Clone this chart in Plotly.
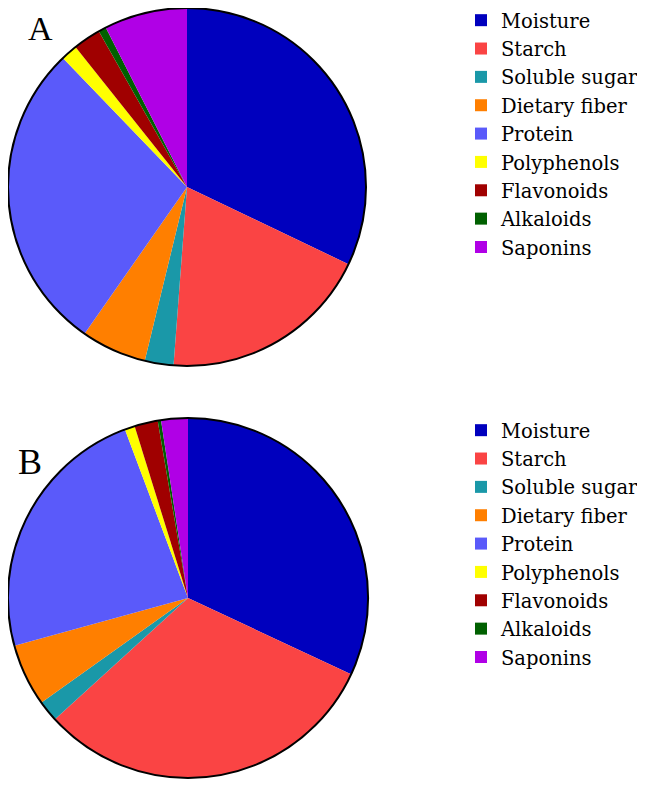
import plotly.graph_objects as go

# composition (%)
components = ["Moisture", "Starch", "Soluble sugar", "Dietary fiber", "Protein",
              "Polyphenols", "Flavonoids", "Alkaloids", "Saponins"]
values_a = [32.1, 19.1, 2.6, 5.9, 28.1, 1.5, 2.5, 0.7, 7.5]
values_b = [32.0, 31.3, 1.9, 5.6, 23.6, 0.9, 2.1, 0.3, 2.4]
colors = ["#0000BE", "#FA4444", "#1A98A8", "#FF7F00", "#5A5AFA",
          "#FFFF00", "#A00000", "#006000", "#B000E6"]

W, H = 645, 786
serif = "Liberation Serif"
legend_serif = "DejaVu Serif"

# pie domains in pixels
dom_a = dict(x=[0, 358 / W], y=[1 - 358 / H, 1])
dom_b = dict(x=[0, 360 / W], y=[1 - 771 / H, 1 - 409 / H])

# plotly merges pie legend entries by label, so B's get a trailing space
labels_b = [c + " " for c in components]

fig = go.Figure()

for labs, vals, dom, leg in [(components, values_a, dom_a, "legend"),
                             (labels_b, values_b, dom_b, "legend2")]:
    fig.add_trace(go.Pie(
        labels=labs, values=vals, sort=False, direction="clockwise",
        rotation=0, textinfo="none", domain=dom, legend=leg,
        marker=dict(colors=colors, line=dict(width=0)),
    ))
    # black rim around the pie only
    fig.add_trace(go.Pie(
        labels=["rim" + leg], values=[1], domain=dom, textinfo="none",
        hoverinfo="skip", showlegend=False, sort=False,
        marker=dict(colors=["rgba(0,0,0,0)"], line=dict(color="black", width=2)),
    ))

fig.update_layout(
    width=W, height=H,
    margin=dict(l=0, r=0, t=0, b=0, autoexpand=False),
    paper_bgcolor="white",
    font=dict(family=serif, color="black"),
    annotations=[
        dict(text="A", x=32 / W, y=1, xref="paper", yref="paper",
             xanchor="center", yanchor="top", showarrow=False,
             font=dict(family=serif, size=34, color="black")),
        dict(text="B", x=22 / W, y=1 - 454 / H, xref="paper", yref="paper",
             xanchor="center", yanchor="middle", showarrow=False,
             font=dict(family=serif, size=36, color="black")),
    ],
)
for name, ytop in [("legend", 1 + 7 / H), ("legend2", 1 - 403 / H)]:
    fig.update_layout({name: dict(
        x=453 / W, y=ytop, xanchor="left", yanchor="top",
        bgcolor="rgba(0,0,0,0)", itemclick=False, itemdoubleclick=False,
        font=dict(family=legend_serif, size=19.5, color="black"),
    )})

fig.write_html("out.html")
